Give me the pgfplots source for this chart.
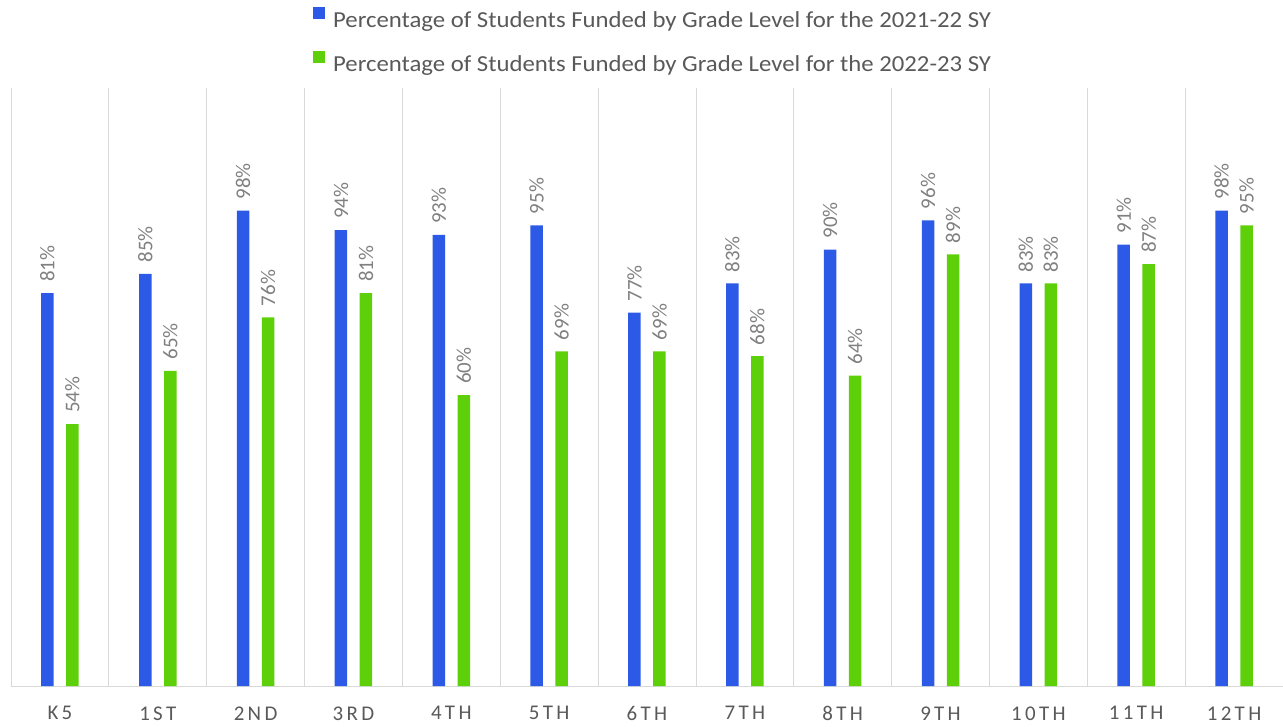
\documentclass[border=0pt]{standalone}
\usepackage{pgfplots}
\pgfplotsset{compat=1.18}
\usepackage{fontspec}
\setmainfont{Carlito}
\definecolor{cblue}{RGB}{44,90,230}
\definecolor{cgreen}{RGB}{94,208,9}
\definecolor{labgray}{RGB}{89,89,89}
\definecolor{datgray}{RGB}{128,128,128}
\definecolor{gridgray}{RGB}{217,217,217}
\begin{document}
\begin{tikzpicture}
\begin{axis}[
  scale only axis,
  width=1272bp, height=598bp,
  xmin=-0.5, xmax=12.5,
  ymin=0, ymax=123.3,
  ybar=12.5bp, bar width=12.5bp,
  axis y line=none,
  axis x line*=bottom,
  x axis line style={gridgray, line width=0.8bp, -},
  xtick={0,...,12},
  xticklabels={K5,1ST,2ND,3RD,4TH,5TH,6TH,7TH,8TH,9TH,10TH,11TH,12TH},
  minor xtick={-0.5,0.5,...,12.5},
  xminorgrids=true,
  minor grid style={gridgray, line width=0.8bp},
  major tick length=0pt, minor tick length=0pt,
  xticklabel style={font=\fontsize{21}{25}\selectfont\addfontfeature{LetterSpace=16}, text=labgray, yshift=-17bp},
  /pgf/number format/assume math mode=true,
  nodes near coords={\pgfmathprintnumber{\pgfplotspointmeta}\%},
  every node near coord/.append style={rotate=90, anchor=west, font=\fontsize{21}{25}\selectfont, text=datgray, inner sep=2bp, xshift=9bp},
  clip=false,
  legend style={at={(0.2374,1.135)}, anchor=north west, draw=none, fill=none, font=\fontsize{23}{27}\selectfont\addfontfeature{FakeStretch=1.08}, text=labgray, row sep=20bp, inner sep=0pt, legend cell align=left},
]
\addplot[fill=cblue, draw=none, legend image code/.code={\fill[cblue] (0bp,1bp) rectangle (12bp,13bp); \path (18bp,0bp);}] coordinates {
(0,81) (1,85) (2,98) (3,94) (4,93) (5,95) (6,77) (7,83) (8,90) (9,96) (10,83) (11,91) (12,98)};
\addplot[fill=cgreen, draw=none, legend image code/.code={\fill[cgreen] (0bp,1bp) rectangle (12bp,13bp); \path (18bp,0bp);}] coordinates {
(0,54) (1,65) (2,76) (3,81) (4,60) (5,69) (6,69) (7,68) (8,64) (9,89) (10,83) (11,87) (12,95)};
\legend{Percentage of Students Funded by Grade Level for the 2021-22 SY, Percentage of Students Funded by Grade Level for the 2022-23 SY}
\end{axis}
\pgfresetboundingbox
\path (-11bp,-41bp) rectangle (1272bp,686bp);
\end{tikzpicture}
\end{document}
